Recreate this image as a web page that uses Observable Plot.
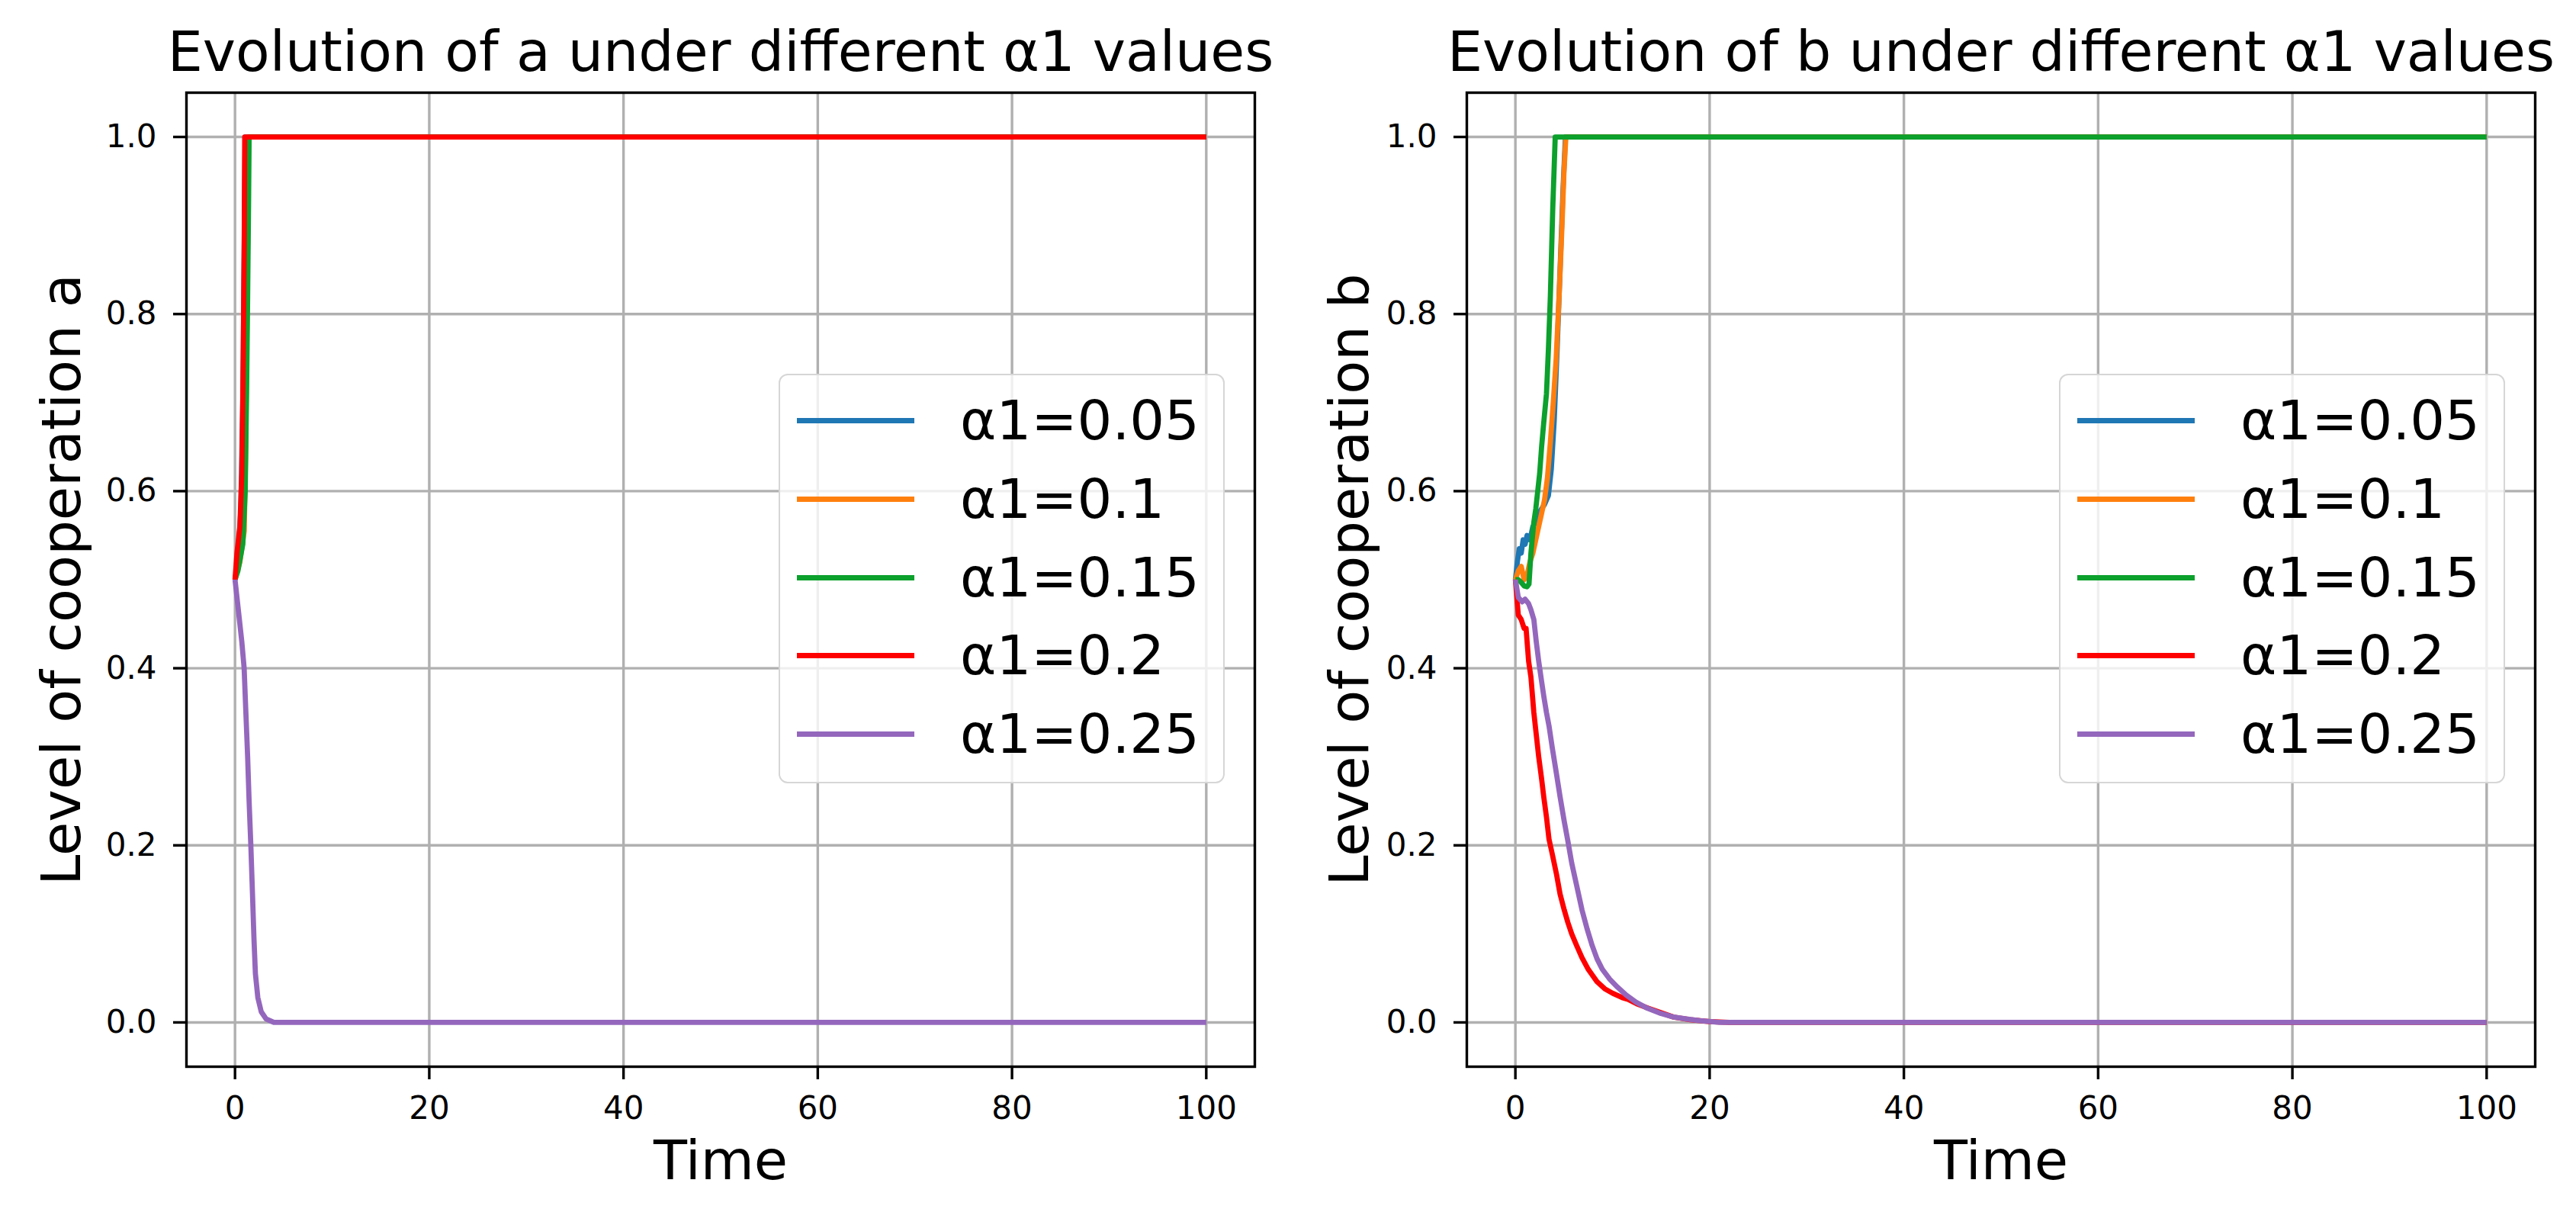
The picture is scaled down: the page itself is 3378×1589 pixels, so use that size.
<!DOCTYPE html>
<html>
<head>
<meta charset="utf-8">
<script src="https://cdn.jsdelivr.net/npm/d3@7"></script>
<script src="https://cdn.jsdelivr.net/npm/@observablehq/plot@0.6"></script>
<style>
  html, body { margin: 0; padding: 0; background: #fff; overflow: hidden; }
  #wrap { position: relative; width: 3378px; height: 1589px; font-family: "DejaVu Sans", sans-serif; }
  .panel { position: absolute; top: 0; }
  .legend { position: absolute; top: 490px; width: 585px; height: 537px; box-sizing: border-box;
            border: 2.5px solid #d6d6d6; border-radius: 12px; background: rgba(255,255,255,0.8); }
  .row { position: absolute; left: 0; width: 100%; height: 103px; }
  .swatch { position: absolute; left: 22px; width: 154px; height: 7px; top: 48px; }
  .lab { position: absolute; left: 236px; top: 0; height: 103px; line-height: 103px; font-size: 72px; color: #000; white-space: nowrap; }
</style>
</head>
<body>
<div id="wrap"></div>
<script>
// ---- categories / labels ----
const seriesNames = ["α1=0.05", "α1=0.1", "α1=0.15", "α1=0.2", "α1=0.25"];
const seriesColors = ["#1f77b4", "#ff7f0e", "#0ca02c", "#ff0000", "#9467bd"];
const xTicks = [0, 20, 40, 60, 80, 100];
const yTicks = [0, 0.2, 0.4, 0.6, 0.8, 1.0];
const titleA = "Evolution of a under different α1 values";
const titleB = "Evolution of b under different α1 values";
const yLabelA = "Level of cooperation a";
const yLabelB = "Level of cooperation b";
const xLabel = "Time";

// ---- panel a (left) ----
const aT005 = [0, 0.3, 0.6, 0.8, 0.95, 1.05, 100];
const aV005 = [0.5, 0.52, 0.58, 0.7, 0.88, 1.0, 1.0];
const aT010 = [0, 0.5, 0.95, 1.1, 1.25, 1.4, 100];
const aV010 = [0.5, 0.52, 0.555, 0.65, 0.82, 1.0, 1.0];
const aT015 = [0, 0.3, 0.8, 1.05, 1.2, 1.3, 1.4, 1.45, 100];
const aV015 = [0.5, 0.51, 0.54, 0.6, 0.72, 0.82, 0.93, 1.0, 1.0];
const aT020 = [0, 0.2, 0.5, 0.7, 0.85, 0.95, 1.0, 100];
const aV020 = [0.5, 0.53, 0.56, 0.62, 0.75, 0.88, 1.0, 1.0];
const aT025 = [0, 0.4, 0.7, 0.94, 1.1, 1.3, 1.45, 1.63, 1.8, 1.95, 2.1, 2.35, 2.7, 3.2, 4.0, 100];
const aV025 = [0.5, 0.46, 0.43, 0.4, 0.355, 0.3, 0.25, 0.2, 0.145, 0.095, 0.055, 0.028, 0.012, 0.004, 0, 0];

// ---- panel b (right) ----
const bT005 = [0, 0.2, 0.4, 0.6, 0.8, 1.0, 1.2, 1.5, 1.8, 2.1, 2.4, 2.7, 3.0, 3.4, 3.7, 4.0, 4.3, 4.6, 4.9, 5.15, 100];
const bV005 = [0.5, 0.52, 0.535, 0.53, 0.545, 0.54, 0.55, 0.545, 0.56, 0.565, 0.575, 0.58, 0.585, 0.595, 0.625, 0.68, 0.76, 0.85, 0.94, 1.0, 1.0];
const bT010 = [0, 0.3, 0.6, 0.9, 1.2, 1.5, 1.8, 2.1, 2.4, 2.7, 3.0, 3.3, 3.6, 3.9, 4.2, 4.5, 4.8, 5.0, 5.2, 100];
const bV010 = [0.5, 0.51, 0.515, 0.5, 0.505, 0.52, 0.53, 0.545, 0.56, 0.575, 0.59, 0.615, 0.655, 0.7, 0.75, 0.82, 0.9, 0.96, 1.0, 1.0];
const bT015 = [0, 0.3, 0.6, 0.9, 1.2, 1.4, 1.6, 1.9, 2.1, 2.3, 2.5, 2.7, 2.9, 3.2, 3.4, 3.6, 3.85, 4.1, 100];
const bV015 = [0.5, 0.5, 0.497, 0.493, 0.492, 0.495, 0.53, 0.565, 0.58, 0.6, 0.62, 0.65, 0.675, 0.71, 0.76, 0.82, 0.92, 1.0, 1.0];
const bT020 = [0, 0.3, 0.6, 0.9, 1.1, 1.36, 1.6, 1.9, 2.15, 2.4, 2.7, 2.93, 3.2, 3.46, 3.8, 4.24, 4.6, 5.03, 5.4, 5.8, 6.3, 6.86, 7.5, 8.4, 9.2, 10, 11, 11.6, 12.5, 13.7, 15, 16.3, 18, 19, 20, 22, 100];
const bV020 = [0.5, 0.46, 0.455, 0.445, 0.445, 0.408, 0.39, 0.35, 0.325, 0.3, 0.275, 0.254, 0.232, 0.207, 0.19, 0.167, 0.145, 0.127, 0.113, 0.1, 0.087, 0.073, 0.06, 0.046, 0.038, 0.033, 0.028, 0.026, 0.021, 0.016, 0.011, 0.006, 0.003, 0.002, 0.001, 0, 0];
const bT025 = [0, 0.3, 0.7, 1.0, 1.36, 1.6, 1.9, 2.15, 2.4, 2.7, 2.93, 3.2, 3.46, 3.8, 4.24, 4.6, 5.03, 5.4, 5.8, 6.3, 6.86, 7.4, 7.9, 8.4, 8.95, 9.7, 10.5, 11.4, 12.4, 13.6, 15, 16.3, 17.6, 19, 21, 100];
const bV025 = [0.5, 0.48, 0.475, 0.478, 0.473, 0.466, 0.455, 0.43, 0.408, 0.385, 0.368, 0.35, 0.335, 0.31, 0.28, 0.255, 0.227, 0.205, 0.18, 0.155, 0.127, 0.105, 0.087, 0.072, 0.06, 0.049, 0.04, 0.031, 0.023, 0.016, 0.01, 0.006, 0.004, 0.002, 0, 0];

const panelA = [[aT005, aV005], [aT010, aV010], [aT015, aV015], [aT020, aV020], [aT025, aV025]];
const panelB = [[bT005, bV005], [bT010, bV010], [bT015, bV015], [bT020, bV020], [bT025, bV025]];

function toRows(series) {
  const rows = [];
  series.forEach(([ts, vs], i) => ts.forEach((t, j) => rows.push({t, v: vs[j], s: seriesNames[i], k: i})));
  return rows;
}

function makePanel(series, title, ylabel, mLeft, mRight) {
  const rows = toRows(series);
  const lw = 6.8, gw = 3.4;
  const marks = [
    Plot.gridX(xTicks, {stroke: "#b0b0b0", strokeOpacity: 1, strokeWidth: gw}),
    Plot.gridY(yTicks, {stroke: "#b0b0b0", strokeOpacity: 1, strokeWidth: gw}),
  ];
  seriesNames.forEach((name, i) => {
    marks.push(Plot.line(rows.filter(r => r.k === i), {x: "t", y: "v", stroke: seriesColors[i], strokeWidth: lw, strokeLinejoin: "round", strokeLinecap: "butt"}));
  });
  marks.push(
    Plot.frame({stroke: "#000", strokeWidth: gw}),
    Plot.axisX({ticks: xTicks, tickSize: 17, tickPadding: 22, fontSize: 42, strokeWidth: gw, label: null, tickFormat: d => String(d)}),
    Plot.axisY({ticks: yTicks, tickSize: 17, tickPadding: 22, fontSize: 42, strokeWidth: gw, label: null, tickFormat: d => d.toFixed(1)}),
    Plot.text([title], {frameAnchor: "top", textAnchor: "middle", lineAnchor: "middle", dy: -52, fontSize: 73, fill: "#000"}),
    Plot.text([xLabel], {frameAnchor: "bottom", textAnchor: "middle", lineAnchor: "middle", dy: 124, fontSize: 72, fill: "#000"}),
    Plot.text([ylabel], {frameAnchor: "left", textAnchor: "middle", lineAnchor: "middle", rotate: -90, dx: 81 - mLeft, fontSize: 72, fill: "#000"})
  );
  return Plot.plot({
    width: 1689, height: 1589,
    marginLeft: mLeft, marginRight: mRight, marginTop: 121, marginBottom: 191,
    x: {domain: [-5, 105]},
    y: {domain: [-0.05, 1.05]},
    style: {fontFamily: "DejaVu Sans", fontSize: "42px", color: "#000", background: "transparent", overflow: "visible"},
    marks
  });
}

function makeLegend(left) {
  const lg = document.createElement("div");
  lg.className = "legend";
  lg.style.left = left + "px";
  seriesNames.forEach((name, i) => {
    const row = document.createElement("div");
    row.className = "row";
    row.style.top = (8 + i * 102.8) + "px";
    const sw = document.createElement("div");
    sw.className = "swatch";
    sw.style.background = seriesColors[i];
    const lab = document.createElement("div");
    lab.className = "lab";
    lab.textContent = name;
    row.appendChild(sw); row.appendChild(lab);
    lg.appendChild(row);
  });
  return lg;
}

const wrap = document.getElementById("wrap");
const pa = makePanel(panelA, titleA, yLabelA, 244, 44);
pa.classList.add("panel"); pa.style.left = "0px";
const pb = makePanel(panelB, titleB, yLabelB, 234, 54);
pb.classList.add("panel"); pb.style.left = "1689px";
wrap.appendChild(pa);
wrap.appendChild(pb);
wrap.appendChild(makeLegend(1021));
wrap.appendChild(makeLegend(2700));
</script>
</body>
</html>
